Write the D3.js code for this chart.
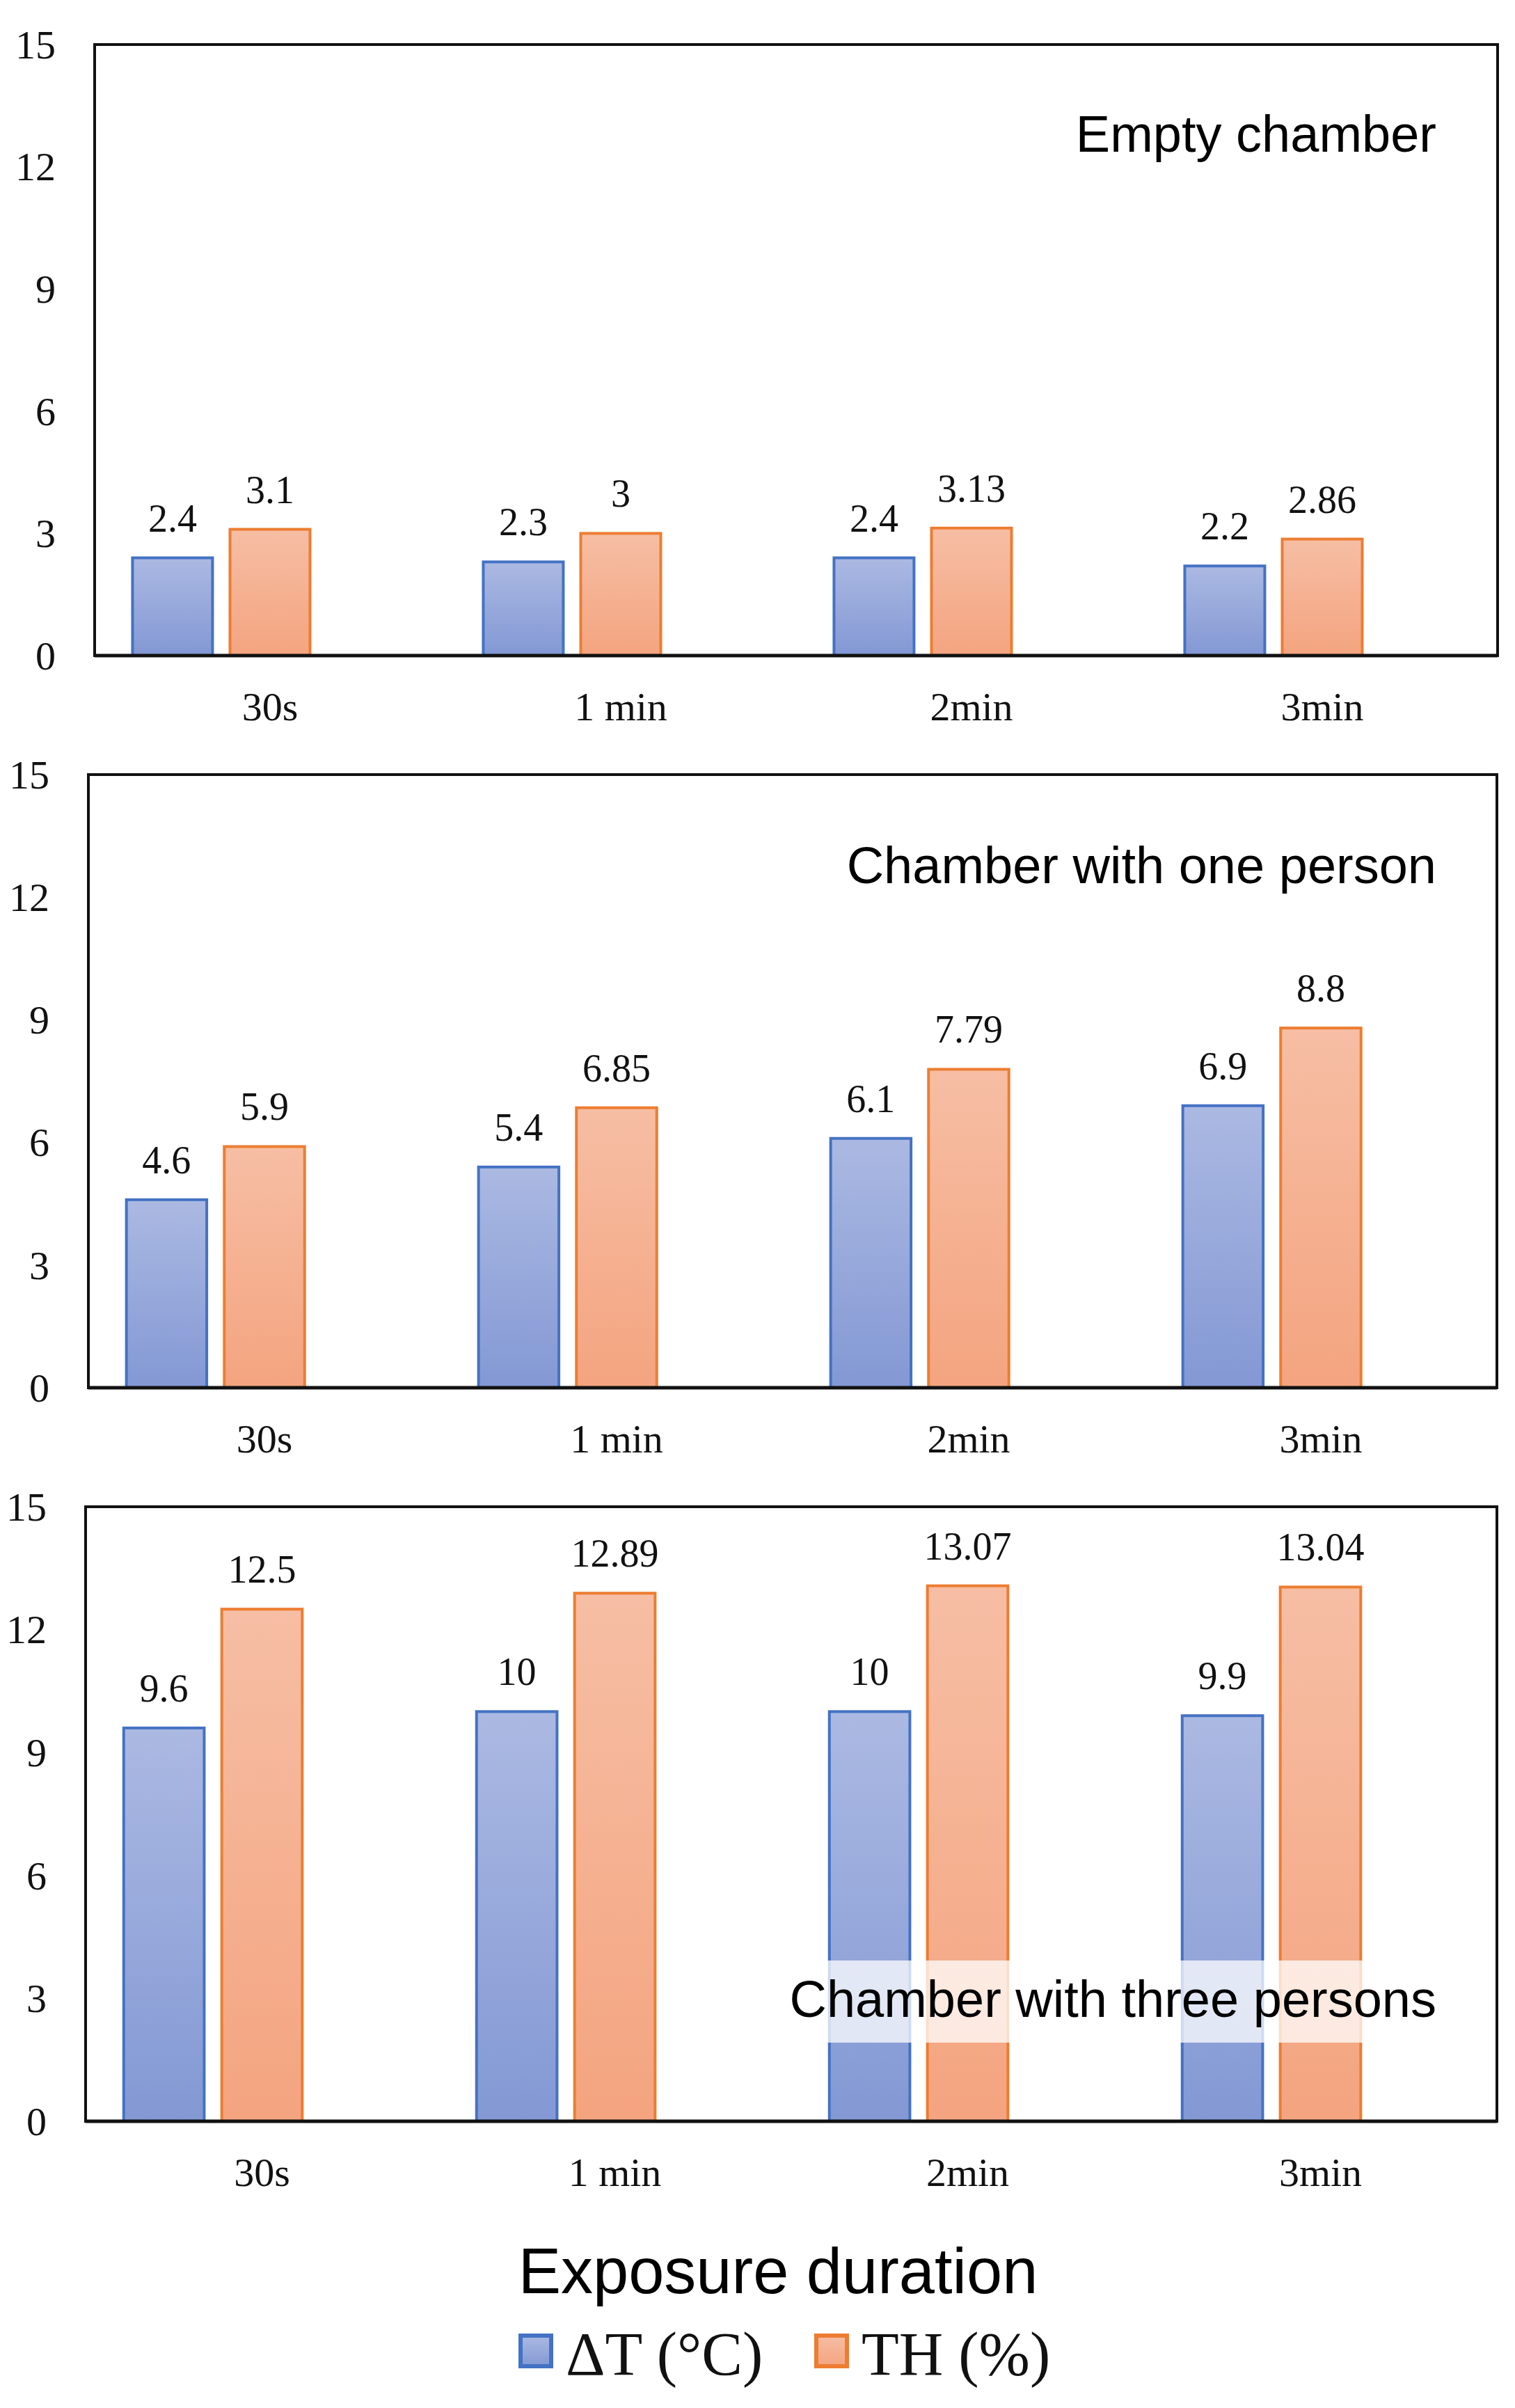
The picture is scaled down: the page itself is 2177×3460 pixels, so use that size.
<!DOCTYPE html>
<html lang="en">
<head>
<meta charset="UTF-8">
<title>Exposure duration</title>
<script src="https://d3js.org/d3.v7.min.js"></script>
<style>
    body { margin: 0; background: #ffffff; }
    svg { display: block; }
    .tick-label, .cat-label, .data-label, .legend-text {
        font-family: "Liberation Serif", "Times New Roman", serif;
        fill: #111;
    }
    .panel-title, .axis-title {
        font-family: "Liberation Sans", Arial, sans-serif;
        fill: #000;
    }
</style>
</head>
<body>
<svg id="chart"></svg>
<script>
    // Data
    const categories = ["30s", "1 min", "2min", "3min"];
    const seriesNames = ["ΔT (°C)", "TH (%)"];
    const yTicks = [0, 3, 6, 9, 12, 15];

    const panelTitles = ["Empty chamber", "Chamber with one person", "Chamber with three persons"];
    const deltaT = [
        [2.4, 2.3, 2.4, 2.2],
        [4.6, 5.4, 6.1, 6.9],
        [9.6, 10, 10, 9.9]
    ];
    const th = [
        [3.1, 3, 3.13, 2.86],
        [5.9, 6.85, 7.79, 8.8],
        [12.5, 12.89, 13.07, 13.04]
    ];

    const W = 2177, H = 3460;
    const svg = d3.select("#chart").attr("width", W).attr("height", H);

    // gradients (light at top, darker at bottom)
    const defs = svg.append("defs");
    const grads = [
        { id: "gBlue", top: "#abb9e2", bottom: "#8398d4" },
        { id: "gOrange", top: "#f6bea4", bottom: "#f4a47f" }
    ];
    grads.forEach(g => {
        const lg = defs.append("linearGradient").attr("id", g.id)
            .attr("x1", 0).attr("y1", 0).attr("x2", 0).attr("y2", 1);
        lg.append("stop").attr("offset", "0%").attr("stop-color", g.top);
        lg.append("stop").attr("offset", "100%").attr("stop-color", g.bottom);
    });
    const fills = ["url(#gBlue)", "url(#gOrange)"];
    const strokes = ["#4472c4", "#ed7d31"];

    // panel frames
    const panels = [
        { left: 136, right: 2152, top: 64, bottom: 942, titleY: 218 },
        { left: 127, right: 2151, top: 1113, bottom: 1994, titleY: 1269 },
        { left: 123, right: 2151, top: 2165, bottom: 3048, titleY: 2898 }
    ];

    // third slot of each group stays empty, as in the source chart
    const slots = ["dT", "TH", "blank"];

    panels.forEach((p, i) => {
        const g = svg.append("g");

        const x0 = d3.scaleBand().domain(categories)
            .range([p.left, p.right]).paddingInner(0.216).paddingOuter(0.108);
        const x1 = d3.scaleBand().domain(slots)
            .range([0, x0.bandwidth()]).paddingInner(0.179).paddingOuter(0);
        const y = d3.scaleLinear().domain([0, 15]).range([p.bottom, p.top]);

        const rows = categories.map((c, k) => ({ cat: c, values: [deltaT[i][k], th[i][k]] }));

        // bars
        rows.forEach(r => {
            r.values.forEach((v, s) => {
                const bx = x0(r.cat) + x1(slots[s]);
                g.append("rect")
                    .attr("x", bx)
                    .attr("y", y(v))
                    .attr("width", x1.bandwidth())
                    .attr("height", y(0) - y(v))
                    .attr("fill", fills[s])
                    .attr("stroke", strokes[s])
                    .attr("stroke-width", 4);

                g.append("text")
                    .attr("class", "data-label")
                    .attr("x", bx + x1.bandwidth() / 2)
                    .attr("y", y(v) - 38)
                    .attr("text-anchor", "middle")
                    .attr("font-size", 56)
                    .text(v);
            });
        });

        // frame
        g.append("rect")
            .attr("x", p.left).attr("y", p.top)
            .attr("width", p.right - p.left).attr("height", p.bottom - p.top)
            .attr("fill", "none").attr("stroke", "#111").attr("stroke-width", 4);
        g.append("line")
            .attr("x1", p.left).attr("x2", p.right)
            .attr("y1", y(0)).attr("y2", y(0))
            .attr("stroke", "#111").attr("stroke-width", 5);

        // y tick labels
        g.selectAll(".tick-label").data(yTicks).enter().append("text")
            .attr("class", "tick-label")
            .attr("x", p.left - 56)
            .attr("y", d => y(d))
            .attr("dy", "0.34em")
            .attr("text-anchor", "end")
            .attr("font-size", 58)
            .text(d => d);

        // category labels
        g.selectAll(".cat-label").data(categories).enter().append("text")
            .attr("class", "cat-label")
            .attr("x", d => x0(d) + x0.bandwidth() / 2)
            .attr("y", p.bottom + 93)
            .attr("text-anchor", "middle")
            .attr("font-size", 58)
            .text(d => d);

        // panel title
        const title = g.append("text")
            .attr("class", "panel-title")
            .attr("x", 2064)
            .attr("y", p.titleY)
            .attr("text-anchor", "end")
            .attr("font-size", 74)
            .text(panelTitles[i]);

        if (i === 2) {
            const bb = title.node().getBBox();
            g.insert("rect", ".panel-title")
                .attr("x", bb.x - 10)
                .attr("y", p.titleY - 81)
                .attr("width", bb.width + 20)
                .attr("height", 118)
                .attr("fill", "#ffffff")
                .attr("fill-opacity", 0.75);
        }
    });

    // axis title
    svg.append("text")
        .attr("class", "axis-title")
        .attr("x", 1118)
        .attr("y", 3295)
        .attr("text-anchor", "middle")
        .attr("font-size", 92)
        .text("Exposure duration");

    // legend
    const legendX = [748, 1173];
    const legend = svg.append("g");
    seriesNames.forEach((name, s) => {
        legend.append("rect")
            .attr("x", legendX[s]).attr("y", 3356)
            .attr("width", 44).attr("height", 44)
            .attr("fill", fills[s])
            .attr("stroke", strokes[s])
            .attr("stroke-width", 6);
        legend.append("text")
            .attr("class", "legend-text")
            .attr("x", legendX[s] + 65)
            .attr("y", 3412)
            .attr("font-size", 88)
            .text(name);
    });
</script>
</body>
</html>
